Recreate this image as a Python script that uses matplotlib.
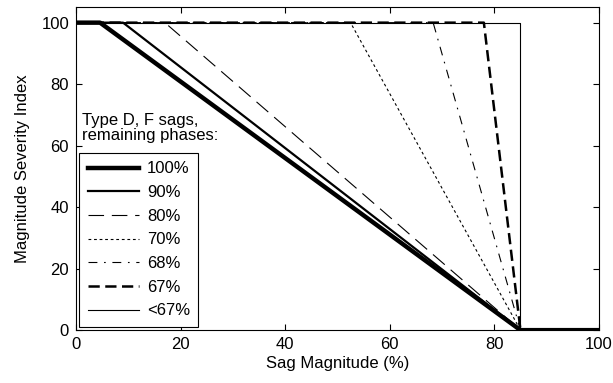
import matplotlib.pyplot as plt

plt.rcParams['font.family'] = ['Liberation Sans', 'DejaVu Sans']
plt.rcParams['font.size'] = 12

# remaining phase magnitude -> sag magnitude where the index starts to drop
labels = ['100%', '90%', '80%', '70%', '68%', '67%', '<67%']
knee = [4.6, 9.0, 17.0, 52.5, 68.3, 78.0, 85.0]
zero_at = 85.0
msi_max = 100.0

styles = [
    dict(lw=3.2, ls='-'),
    dict(lw=1.6, ls='-'),
    dict(lw=0.8, ls=(0, (14, 7))),
    dict(lw=0.8, ls=(0, (2.5, 2.5))),
    dict(lw=0.8, ls=(0, (8, 6, 1.5, 6))),
    dict(lw=1.8, ls=(0, (4.5, 2.2))),
    dict(lw=0.8, ls='-'),
]

fig = plt.figure(figsize=(6.13, 3.83), dpi=100)
ax = fig.add_axes([0.124, 0.138, 0.853, 0.843])

for k, lab, st in zip(knee, labels, styles):
    xs = [0, k, zero_at, 100]
    ys = [msi_max, msi_max, 0, 0]
    ax.plot(xs, ys, color='black', label=lab, **st)

ax.set_xlim(0, 100)
ax.set_ylim(0, 105)
ax.set_xticks(range(0, 101, 20))
ax.set_yticks(range(0, 101, 20))
ax.tick_params(direction='in', top=True, right=True, length=4, width=0.8, pad=5)
for sp in ax.spines.values():
    sp.set_linewidth(0.8)

ax.set_xlabel('Sag Magnitude (%)', labelpad=3)
ax.set_ylabel('Magnitude Severity Index', labelpad=8)

ax.text(0.011, 0.672, 'Type D, F sags,\nremaining phases:', transform=ax.transAxes,
        va='top', ha='left', linespacing=1.0)

leg = ax.legend(loc='lower left', bbox_to_anchor=(0.0, 0.0), handlelength=3.1,
                handletextpad=0.45, labelspacing=0.52, borderpad=0.5,
                borderaxespad=0.2, fancybox=False, framealpha=1, edgecolor='black')
leg.get_frame().set_linewidth(0.8)

fig.savefig('out.png', dpi=100)
